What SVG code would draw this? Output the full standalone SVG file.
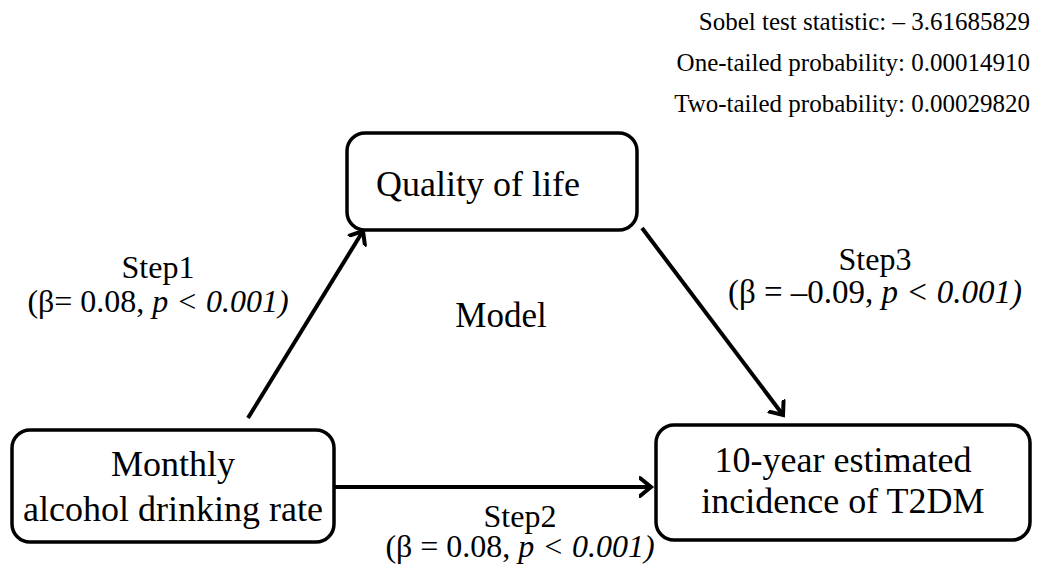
<svg xmlns="http://www.w3.org/2000/svg" width="1043" height="569" viewBox="0 0 1043 569">
<style>
text{font-family:'Liberation Serif','DejaVu Serif',serif;fill:#000}
.box{fill:#fff;stroke:#000;stroke-width:3.5}
.node{font-size:36px;text-anchor:middle}
.lbl{font-size:32px;text-anchor:middle}
.stat{font-size:25px;text-anchor:end}
.conn{stroke:#000;stroke-width:4;fill:none}
.it{font-style:italic}
</style>
<defs>
<marker id="arr" markerUnits="userSpaceOnUse" markerWidth="24" markerHeight="24" viewBox="-12 -12 24 24" refX="0" refY="0" orient="auto">
<path d="M-11,-9 L0,0 L-11,9" fill="none" stroke="#000" stroke-width="4" stroke-linecap="round" stroke-linejoin="miter"/>
</marker>
</defs>
<g id="stats">
<text class="stat" x="1030" y="30">Sobel test statistic: – 3.61685829</text>
<text class="stat" x="1030" y="71">One-tailed probability: 0.00014910</text>
<text class="stat" x="1030" y="112">Two-tailed probability: 0.00029820</text>
</g>
<g id="connectors">
<line class="conn" x1="248" y1="418" x2="363" y2="231" marker-end="url(#arr)"/>
<line class="conn" x1="642" y1="228" x2="783" y2="415" marker-end="url(#arr)"/>
<line class="conn" x1="334" y1="487" x2="651" y2="487" marker-end="url(#arr)"/>
</g>
<g id="quality">
<rect class="box" x="347" y="133" width="290" height="97" rx="18"/>
<text class="node" x="478" y="196">Quality of life</text>
</g>
<g id="monthly">
<rect class="box" x="12" y="430" width="322" height="112" rx="18"/>
<text class="node" x="173" y="476">Monthly</text>
<text class="node" x="173" y="521">alcohol drinking rate</text>
</g>
<g id="t2dm">
<rect class="box" x="656" y="425" width="374" height="115" rx="18"/>
<text class="node" x="843" y="472">10-year estimated</text>
<text class="node" x="843" y="513">incidence of T2DM</text>
</g>
<g id="labels">
<text class="lbl" x="158" y="278">Step1</text>
<text class="lbl" x="158" y="312">(β= 0.08, <tspan class="it">p &lt; 0.001)</tspan></text>
<text class="lbl" x="501" y="327" style="font-size:35px">Model</text>
<text class="lbl" x="875" y="270">Step3</text>
<text class="lbl" x="875" y="303" style="font-size:33px">(β = –0.09,  <tspan class="it">p &lt; 0.001)</tspan></text>
<text class="lbl" x="520" y="527">Step2</text>
<text class="lbl" x="520" y="557">(β = 0.08, <tspan class="it">p &lt; 0.001)</tspan></text>
</g>
</svg>
